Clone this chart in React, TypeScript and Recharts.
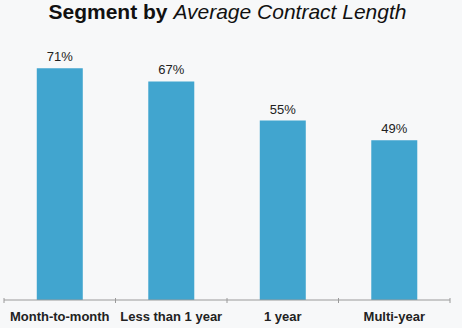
import { BarChart, Bar, XAxis, YAxis, LabelList } from 'recharts'

const categories = ['Month-to-month', 'Less than 1 year', '1 year', 'Multi-year']
const shares = [71, 67, 55, 49]

const data = categories.map((name, i) => ({ name, value: shares[i] }))

const FONT = '"Liberation Sans", Arial, sans-serif'
const AXIS = '#9a9a9a'

function CategoryTick(props: any) {
  const { x, y, payload, index } = props
  const half = payload && payload.offset ? payload.offset : 0
  return (
    <g>
      {index === 0 && <line x1={x - half} y1={y - 10} x2={x - half} y2={y - 5} stroke={AXIS} />}
      <line x1={x + half} y1={y - 10} x2={x + half} y2={y - 5} stroke={AXIS} />
      <text
        x={x}
        y={y + 13}
        textAnchor="middle"
        fill="#222"
        fontSize={13}
        fontWeight="bold"
        fontFamily={FONT}
      >
        {payload.value}
      </text>
    </g>
  )
}

export default function App() {
  return (
    <div
      style={{
        position: 'absolute',
        left: 0,
        top: 0,
        width: 462,
        height: 328,
        background: '#f7f8f9',
        fontFamily: FONT,
      }}
    >
      <div
        style={{
          position: 'absolute',
          left: 0,
          top: 0,
          width: 455,
          textAlign: 'center',
          fontSize: 21,
          color: '#111',
          lineHeight: '24px',
        }}
      >
        <b>Segment by </b>
        <i>Average Contract Length</i>
      </div>
      <BarChart
        width={462}
        height={328}
        data={data}
        margin={{ top: 39, right: 12, left: 4, bottom: 0 }}
        barCategoryGap="29.4%"
      >
        <YAxis hide domain={[0, 80]} />
        <XAxis
          dataKey="name"
          height={28}
          axisLine={{ stroke: AXIS }}
          tickLine={false}
          interval={0}
          tick={<CategoryTick />}
        />
        <Bar dataKey="value" fill="#41a5cf" isAnimationActive={false}>
          <LabelList
            dataKey="value"
            position="top"
            offset={7}
            formatter={(v: any) => `${v}%`}
            fill="#222"
            fontSize={13}
            fontFamily={FONT}
          />
        </Bar>
      </BarChart>
    </div>
  )
}
